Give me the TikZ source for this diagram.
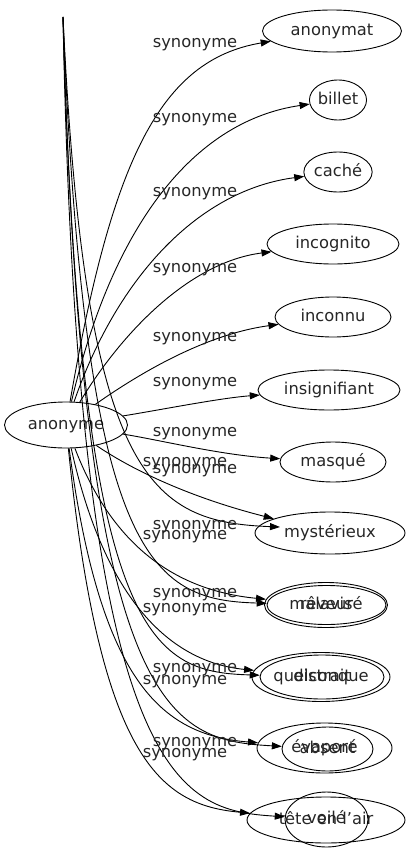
\documentclass[tikz,border=0pt]{standalone}
\usepackage{fontspec}
\setmainfont{DejaVu Sans}
\usetikzlibrary{arrows.meta,shapes.geometric}
\begin{document}
\begin{tikzpicture}[x=1pt,y=-1pt,
  every node/.style={font=\fontsize{16.3}{19}\selectfont, text=black!85, text height=12pt, text depth=3.5pt},
  word/.style={draw=black, ellipse, inner sep=0pt, line width=0.9pt},
  lab/.style={inner sep=0pt},
  edge/.style={draw=black, line width=0.9pt, -{Triangle[length=10pt,width=7pt]}}]
\useasboundingbox (0,0) rectangle (407,851);
% source
\node[word, minimum width=123, minimum height=46] (anon) at (66,425) {anonyme};
\coordinate (top) at (63,17);
% targets
\node[word, minimum width=139, minimum height=42] (n1) at (332,31) {anonymat};
\node[word, minimum width=56, minimum height=40] (n2) at (338,100) {billet};
\node[word, minimum width=60, minimum height=40] (n3) at (338,172) {caché};
\node[word, minimum width=132, minimum height=40] (n4) at (333,244) {incognito};
\node[word, minimum width=116, minimum height=40] (n5) at (333,317) {inconnu};
\node[word, minimum width=142, minimum height=40] (n6) at (329,390) {insignifiant};
\node[word, minimum width=106, minimum height=40] (n7) at (333,462) {masqué};
\node[word, minimum width=150, minimum height=42] (n8) at (330,533) {mystérieux};
\coordinate (n8b) at (280,527);
\node[word, minimum width=123, minimum height=45] (n9a) at (326,605) {malavisé};
\node[word, minimum width=119, minimum height=39] (n9b) at (326.5,605) {rêveur};
\node[word, minimum width=138, minimum height=49] (n10a) at (321,677) {quelconque};
\node[word, minimum width=124, minimum height=44] (n10b) at (322,677) {distrait};
\node[word, minimum width=135, minimum height=50] (n11a) at (324.5,748) {évaporé};
\node[word, minimum width=91, minimum height=44] (n11b) at (327.5,749) {absent};
\node[word, minimum width=158, minimum height=46] (n12a) at (326,820) {tête en l'air};
\node[word, minimum width=83, minimum height=55] (n12b) at (326.5,819.5) {voilé};
% edges from anonyme
\draw[edge] (anon) .. controls (112,160) and (160,60) .. (n1);
\draw[edge] (anon) .. controls (115,215) and (200,120) .. (n2);
\draw[edge] (anon) .. controls (118,275) and (200,190) .. (n3);
\draw[edge] (anon) .. controls (122,332) and (190,262) .. (n4);
\draw[edge] (anon) .. controls (130,380) and (200,335) .. (n5);
\draw[edge] (anon) .. controls (160,410) and (220,398) .. (n6);
\draw[edge] (anon) .. controls (160,440) and (220,455) .. (n7);
\draw[edge] (anon) .. controls (140,475) and (200,500) .. (n8);
\draw[edge] (anon) .. controls (110,540) and (170,590) .. (n9a);
\draw[edge] (anon) .. controls (105,600) and (170,662) .. (n10a);
\draw[edge] (anon) .. controls (100,680) and (160,735) .. (n11a);
\draw[edge] (anon) .. controls (100,760) and (160,805) .. (n12a);
% edges from the top point
\draw[edge] (top) .. controls (85,480) and (150,522) .. (n8b);
\draw[edge] (top) .. controls (85,560) and (150,600) .. (n9b);
\draw[edge] (top) .. controls (80,640) and (150,672) .. (n10b);
\draw[edge] (top) .. controls (82,720) and (170,740) .. (n11b);
\draw[edge] (top) .. controls (78,790) and (180,810) .. (n12b);
% labels
\node[lab] (l1) at (195,43) {synonyme};
\node[lab] (l2) at (195,118) {synonyme};
\node[lab] (l3) at (195,192) {synonyme};
\node[lab] (l4) at (195,268) {synonyme};
\node[lab] (l5) at (195,337) {synonyme};
\node[lab] (l6) at (195,382) {synonyme};
\node[lab] (l7) at (195,432) {synonyme};
\node[lab] (l8) at (195,469) {synonyme};
\node[lab] (l8b) at (185,462) {synonyme};
\node[lab] (l9) at (195,525) {synonyme};
\node[lab] (l9b) at (185,535) {synonyme};
\node[lab] (l10) at (195,593) {synonyme};
\node[lab] (l10b) at (185,608) {synonyme};
\node[lab] (l11) at (195,668) {synonyme};
\node[lab] (l11b) at (185,680) {synonyme};
\node[lab] (l12) at (195,742) {synonyme};
\node[lab] (l12b) at (185,753) {synonyme};
\end{tikzpicture}
\end{document}
